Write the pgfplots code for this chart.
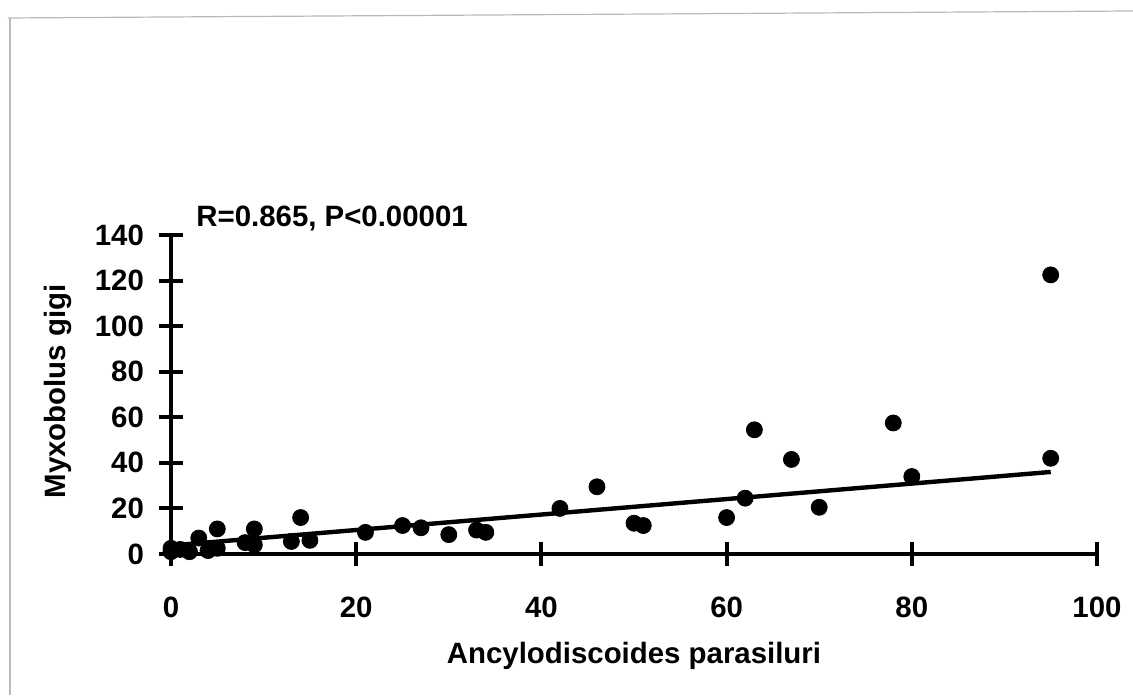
\documentclass[border=0pt]{standalone}
\usepackage{pgfplots}
\pgfplotsset{compat=1.18}
\usepackage{fontspec}
\setmainfont{Liberation Sans}
\pgfplotstableread{
x y
0 2.5
0 1
1 2
2 1
3 7
4 1.5
5 11
5 2.5
8 5
9 11
9 4
13 5.5
14 16
15 6
21 9.5
25 12.5
27 11.5
30 8.5
33 10.5
34 9.5
42 20
46 29.5
50 13.5
51 12.5
60 16
62 24.5
63 54.5
67 41.5
70 20.5
78 57.5
80 34
95 42
95 122.5
}\pts
\begin{document}
\begin{tikzpicture}
\useasboundingbox (0pt,0pt) rectangle (566.5pt,347.5pt);
\draw[gray!55, line width=0.6pt] (4pt,338.5pt) -- (566.5pt,342pt);
\draw[gray!55, line width=0.6pt] (5pt,338.5pt) -- (5pt,0pt);
\begin{axis}[
 at={(85.5pt,70.5pt)}, anchor=south west,
 scale only axis, width=463pt, height=159.5pt,
 xmin=0,xmax=100,ymin=0,ymax=140,
 axis lines*=left, axis line style={line width=2.2pt},
 clip=false,
 xtick={0,20,...,100}, ytick={0,20,...,140},
 tick align=center, major tick length=12pt,
 every tick/.style={line width=2pt, black},
 tick label style={font=\fontsize{14.7}{16}\selectfont\bfseries},
 /pgf/number format/assume math mode=true,
 xticklabel shift=12pt, yticklabel shift=4pt,
 xlabel={Ancylodiscoides parasiluri}, ylabel={Myxobolus gigi},
 label style={font=\fontsize{14.7}{16}\selectfont\bfseries},
 xlabel style={at={(axis description cs:0.5,-0.32)}, anchor=center},
 ylabel style={at={(axis description cs:-0.122,0.51)}, anchor=center},
]
\addplot[black, line width=2.2pt] coordinates {(0.5,3.9) (95,36)};
\addplot[only marks, mark=*, mark size=4pt, black] table[x=x,y=y] {\pts};
\node[anchor=west, inner sep=0pt, font=\fontsize{14.7}{16}\selectfont\bfseries] at (axis cs:2.7,147.4) {R=0.865, P<0.00001};
\end{axis}
\end{tikzpicture}
\end{document}
